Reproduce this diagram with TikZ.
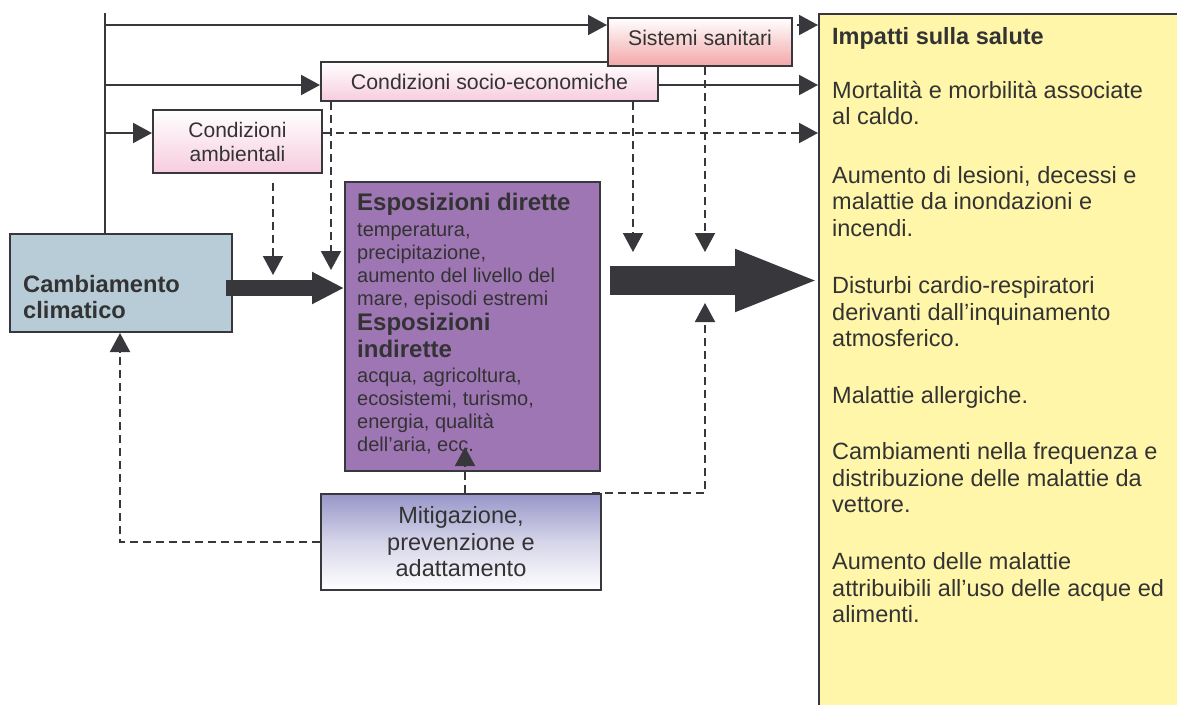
\documentclass[tikz,border=0pt]{standalone}
\usepackage{fontspec}
\setmainfont{Liberation Sans}
\usetikzlibrary{arrows.meta}
\definecolor{ink}{HTML}{38383C}
\definecolor{txt}{HTML}{333333}
\definecolor{ccblue}{HTML}{B8CCD8}
\definecolor{expurple}{HTML}{9E76B4}
\definecolor{yel}{HTML}{FFF6AA}
\definecolor{pinkb}{HTML}{F7CCDE}
\definecolor{redb}{HTML}{F2A6A8}
\definecolor{mitc}{HTML}{9896C8}
\begin{document}
\begin{tikzpicture}[x=1pt,y=-1pt,
  box/.style={draw=ink, line width=2pt, anchor=north west, inner sep=0pt, text=txt, align=center},
  arr/.style={draw=ink, line width=2pt, -{Triangle[length=19pt,width=20pt]}},
  darr/.style={arr, dash pattern=on 8pt off 5pt},
  plain/.style={draw=ink, line width=2pt},
  fatA/.style={draw=ink, line width=16pt, -{Triangle[length=32pt,width=30pt]}},
  fatB/.style={draw=ink, line width=29pt, -{Triangle[length=85pt,width=56pt]}}]
\useasboundingbox (0,0) rectangle (1177,704);
\clip (0,0) rectangle (1177,704);
\fill[white] (0,0) rectangle (1177,704);

% boxes
\node[box, fill=yel, minimum width=400pt, minimum height=720pt] (imp) at (818,13) {};
\node[anchor=north west, inner sep=0pt, text=txt, align=left,
      font=\fontsize{23.5}{26.5}\selectfont] (impt) at (832,27) {%
  \textbf{Impatti sulla salute}\\[27.5pt]
  Mortalità e morbilità associate\\
  al caldo.\\[32pt]
  Aumento di lesioni, decessi e\\
  malattie da inondazioni e\\
  incendi.\\[31pt]
  Disturbi cardio-respiratori\\
  derivanti dall’inquinamento\\
  atmosferico.\\[30pt]
  Malattie allergiche.\\[30pt]
  Cambiamenti nella frequenza e\\
  distribuzione delle malattie da\\
  vettore.\\[30.5pt]
  Aumento delle malattie\\
  attribuibili all’uso delle acque ed\\
  alimenti.};

\node[box, top color=white, bottom color=pinkb, minimum width=337pt, minimum height=39pt,
      font=\fontsize{21.3}{24}\selectfont] (se) at (320,61) {Condizioni socio-economiche};
\node[box, top color=white, bottom color=redb, minimum width=184pt, minimum height=48pt,
      font=\fontsize{21.2}{24}\selectfont] (ss) at (607,17) {\raisebox{8pt}{Sistemi sanitari}};
\node[box, top color=white, bottom color=pinkb, minimum width=169pt, minimum height=63pt,
      font=\fontsize{21}{24}\selectfont] (ca) at (152,109) {Condizioni\\ambientali};
\node[box, fill=ccblue, minimum width=222pt, minimum height=98pt] (cc) at (9,233) {};
\node[anchor=north west, inner sep=0pt, text=txt, align=left,
      font=\fontsize{23.7}{26}\selectfont\bfseries] (cct) at (23,275) {Cambiamento\\climatico};
\node[box, fill=expurple, minimum width=255pt, minimum height=289pt] (exp) at (344,181) {};
\node[anchor=north west, inner sep=0pt, text=txt, align=left,
      font=\fontsize{20}{23}\selectfont] (expt) at (357,193) {%
  {\fontsize{24}{23}\selectfont\bfseries Esposizioni dirette}\\[3pt]
  temperatura,\\
  precipitazione,\\
  aumento del livello del\\
  mare, episodi estremi\\[2pt]
  {\fontsize{24}{23}\selectfont\bfseries Esposizioni}\\[4pt]
  {\fontsize{24}{23}\selectfont\bfseries indirette}\\[2pt]
  acqua, agricoltura,\\
  ecosistemi, turismo,\\
  energia, qualità\\
  dell’aria, ecc.};
\node[box, top color=mitc, bottom color=white, middle color=mitc!40, minimum width=280pt, minimum height=96pt,
      font=\fontsize{23.5}{26.5}\selectfont] (mit) at (320,493) {Mitigazione,\\prevenzione e\\adattamento};

% helper coordinates
\coordinate (v0) at (105,13);
\coordinate (h1) at (105,25);
\coordinate (h2) at (105,85);
\coordinate (h3) at (105,133);
\coordinate (d1) at (273,275);
\coordinate (d2) at (331,270);
\coordinate (d3) at (633,252);
\coordinate (d4) at (705,252);
\coordinate (m1) at (465,447);
\coordinate (m2) at (705,303);
\coordinate (m3) at (120,0);
\coordinate (a0) at (0,288);
\coordinate (b0) at (0,280.5);

% solid connectors
\draw[plain] (v0) -- (v0 |- cc.north);
\draw[arr] (h1) -- (h1 -| ss.west);
\draw[arr] (h2) -- (h2 -| se.west);
\draw[arr] (h3) -- (h3 -| ca.west);
\draw[arr, shorten <=4pt] (h1 -| ss.east) -- (h1 -| imp.west);
\draw[arr] (h2 -| se.east) -- (h2 -| imp.west);

% dashed connectors
\draw[darr] (h3 -| ca.east) -- (h3 -| imp.west);
\draw[darr, shorten <=9pt] (d1 |- ca.south) -- (d1);
\draw[darr] (d2 |- se.south) -- (d2);
\draw[darr] (d3 |- se.south) -- (d3);
\draw[darr] (d4 |- ss.south) -- (d4);
\draw[darr] (m1 |- mit.north) -- (m1);
\draw[darr] ([xshift=-10pt]mit.north east) -- (m2 |- mit.north) -- (m2);
\draw[darr] (mit.west) -- (mit.west -| m3) -- (cc.south -| m3);

% thick arrows
\draw[fatA, shorten <=-7pt] (cc.east |- a0) -- (exp.west |- a0);
\draw[fatB, shorten <=9pt, shorten >=-2pt] (exp.east |- b0) -- (imp.west |- b0);
\end{tikzpicture}
\end{document}
